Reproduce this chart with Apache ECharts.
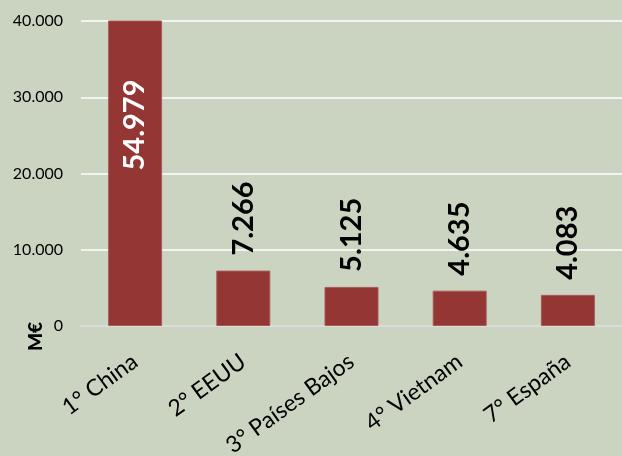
<!DOCTYPE html>
<html>
<head>
<meta charset="utf-8">
<script src="https://cdn.jsdelivr.net/npm/echarts@6/dist/echarts.min.js"></script>
<style>
  html, body { margin: 0; padding: 0; background: #cbd4c1; }
  #chart { width: 622px; height: 456px; }
</style>
</head>
<body>
<div id="chart"></div>
<script>
// datos: exportaciones por país (M€)
const paises = ['1° China', '2° EEUU', '3° Países Bajos', '4° Vietnam', '7° España']
const valores = [54979, 7266, 5125, 4635, 4083]
const yMax = 40000
const yPaso = 10000

// 54979 -> "54.979"
const puntos = (v) => String(v).replace(/\B(?=(\d{3})+(?!\d))/g, '.')

const fuente = 'Lato, "Open Sans", sans-serif'

const datos = valores.map((v) => {
  if (v <= yMax) return v
  // la barra se corta en el máximo, etiqueta blanca dentro
  return {
    value: v,
    label: { position: ['50%', 59], align: 'right', color: '#fff' }
  }
})

const chart = echarts.init(document.getElementById('chart'))
chart.setOption({
  backgroundColor: '#cbd4c1',
  textStyle: { fontFamily: fuente },
  grid: { left: 81, right: 0, top: 21, bottom: 130, outerBoundsMode: 'none', containLabel: false },
  graphic: [
    {
      type: 'text',
      left: 26,
      top: 322,
      rotation: Math.PI / 2,
      style: { text: 'M€', fill: '#000', fontSize: 19, fontWeight: 900, fontFamily: fuente }
    }
  ],
  xAxis: {
    type: 'category',
    data: paises,
    axisTick: { show: false },
    axisLine: { lineStyle: { color: '#dcdcdc', width: 2 } },
    axisLabel: {
      interval: 0,
      rotate: 36,
      margin: 33,
      fontSize: 23,
      color: '#000',
      fontFamily: fuente
    }
  },
  yAxis: {
    type: 'value',
    min: 0,
    max: yMax,
    interval: yPaso,
    axisLabel: {
      formatter: puntos,
      fontSize: 16,
      color: '#000',
      margin: 18,
      fontFamily: fuente
    },
    splitLine: { lineStyle: { color: '#ffffff', width: 1.5 } }
  },
  series: [
    {
      type: 'bar',
      data: datos,
      barWidth: 54,
      itemStyle: { color: '#943634', borderColor: '#a85a58', borderWidth: 1 },
      label: {
        show: true,
        position: 'top',
        rotate: 90,
        align: 'left',
        verticalAlign: 'middle',
        distance: 15,
        fontSize: 29,
        fontWeight: 'bold',
        color: '#000',
        fontFamily: fuente,
        formatter: (p) => puntos(p.value)
      }
    }
  ]
})
</script>
</body>
</html>
